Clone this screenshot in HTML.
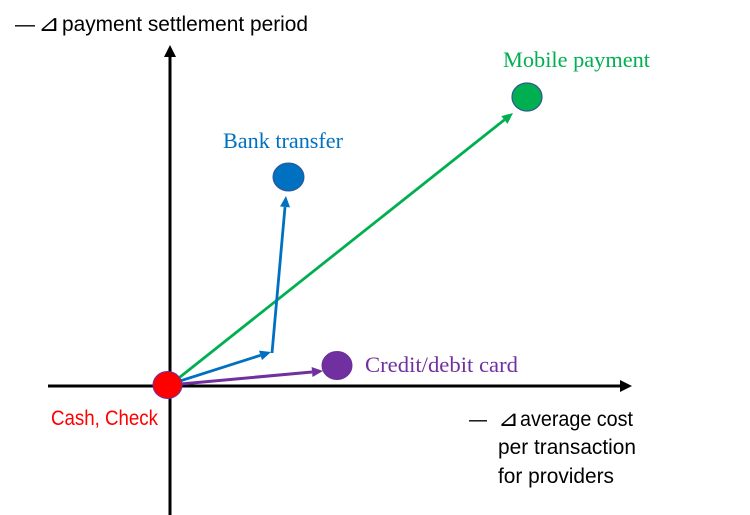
<!DOCTYPE html>
<html>
<head>
<meta charset="utf-8">
<style>
  html,body{margin:0;padding:0;background:#fff;}
  svg{display:block;}
  .sans{font-family:"Liberation Sans","DejaVu Sans",sans-serif;}
  .serif{font-family:"Liberation Serif","DejaVu Serif",serif;}
  .sym{font-family:"DejaVu Sans","Liberation Sans",sans-serif;}
</style>
</head>
<body>
<svg width="750" height="515" viewBox="0 0 750 515" xmlns="http://www.w3.org/2000/svg">
  <rect width="750" height="515" fill="#fff"/>

  <!-- axes -->
  <line x1="170" y1="56" x2="170" y2="515" stroke="#000" stroke-width="3"/>
  <polygon points="170,45 164,57 176,57" fill="#000"/>
  <line x1="48" y1="386" x2="621" y2="386" stroke="#000" stroke-width="3"/>
  <polygon points="632,386 620,380 620,392" fill="#000"/>

  <!-- green arrow -->
  <line x1="175" y1="381" x2="504.4" y2="119.8" stroke="#00b050" stroke-width="2.8"/>
  <polygon points="513,113 507.5,123.9 501.3,116.1" fill="#00b050"/>

  <!-- blue arrows -->
  <line x1="180" y1="381" x2="260.5" y2="355.3" stroke="#0070c0" stroke-width="2.8"/>
  <polygon points="271,352 262.0,360.1 259.0,350.6" fill="#0070c0"/>
  <line x1="272" y1="353" x2="285.0" y2="207.0" stroke="#0070c0" stroke-width="2.8"/>
  <polygon points="286,196 290.0,207.4 280.0,206.5" fill="#0070c0"/>

  <!-- purple arrow -->
  <line x1="181" y1="384" x2="312.0" y2="372.0" stroke="#7030a0" stroke-width="3"/>
  <polygon points="323,371 312.5,377.0 311.6,367.0" fill="#7030a0"/>

  <!-- nodes -->
  <ellipse cx="167.5" cy="385" rx="14.5" ry="13.5" fill="#ff0000" stroke="#7030a0" stroke-width="1"/>
  <ellipse cx="337" cy="365.5" rx="15" ry="14" fill="#7030a0" stroke="#6a2e9a" stroke-width="1"/>
  <ellipse cx="288.5" cy="177" rx="15.5" ry="14" fill="#0070c0" stroke="#2f5597" stroke-width="1"/>
  <ellipse cx="527" cy="97" rx="15" ry="14" fill="#00b050" stroke="#2f5597" stroke-width="1.2"/>

  <!-- labels -->
  <text class="sans" x="15" y="31" font-size="21" fill="#000" textLength="20" lengthAdjust="spacingAndGlyphs">—</text>
  <text class="sym" x="38" y="31" font-size="23" fill="#000" textLength="22" lengthAdjust="spacingAndGlyphs">⊿</text>
  <text class="sans" x="62" y="31" font-size="21" fill="#000" textLength="246" lengthAdjust="spacingAndGlyphs">payment settlement period</text>

  <text class="serif" x="503" y="67" font-size="22" fill="#00b050" textLength="147" lengthAdjust="spacingAndGlyphs">Mobile payment</text>
  <text class="serif" x="223" y="148" font-size="22" fill="#0070c0" textLength="120" lengthAdjust="spacingAndGlyphs">Bank transfer</text>
  <text class="serif" x="365" y="372" font-size="22" fill="#7030a0" textLength="153" lengthAdjust="spacingAndGlyphs">Credit/debit card</text>

  <text class="sans" x="51" y="425" font-size="21" fill="#ff0000" textLength="107" lengthAdjust="spacingAndGlyphs">Cash, Check</text>

  <text class="sans" x="469" y="426" font-size="20" fill="#000" textLength="18" lengthAdjust="spacingAndGlyphs">—</text>
  <text class="sym" x="498" y="426" font-size="22" fill="#000" textLength="21" lengthAdjust="spacingAndGlyphs">⊿</text>
  <text class="sans" x="520" y="426" font-size="21" fill="#000" textLength="113" lengthAdjust="spacingAndGlyphs">average cost</text>
  <text class="sans" x="498" y="454" font-size="21" fill="#000" textLength="138" lengthAdjust="spacingAndGlyphs">per transaction</text>
  <text class="sans" x="498" y="483" font-size="21" fill="#000" textLength="116" lengthAdjust="spacingAndGlyphs">for providers</text>
</svg>
</body>
</html>
